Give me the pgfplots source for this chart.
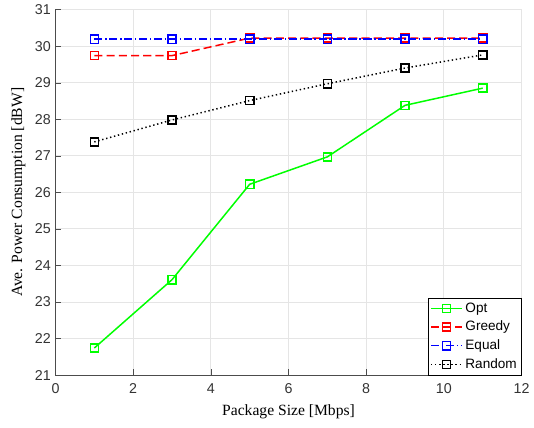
\documentclass[border=0pt]{standalone}
\usepackage{fontspec}
\setmainfont{Liberation Serif}
\newfontfamily\ticksans{Liberation Sans}
\usepackage{pgfplots}
\pgfplotsset{compat=1.18}

\begin{document}
\begin{tikzpicture}
\begin{axis}[
  scale only axis,
  width=343pt, height=269pt,
  xmin=0, xmax=12, ymin=21, ymax=31,
  xtick={0,2,...,12}, ytick={21,22,...,31},
  axis x line*=bottom, axis y line*=left,
  grid=major,
  major grid style={gray!20, line width=0.6pt},
  axis line style={gray!60!black},
  tick style={gray!60!black},
  tick align=inside,
  ticklabel style={font=\ticksans\fontsize{10.5}{12}\selectfont, text=black!80},
  xticklabel style={yshift=-3pt},
  /pgf/number format/assume math mode=true,
  xlabel={Package Size [Mbps]},
  ylabel={Ave. Power Consumption [dBW]},
  label style={font=\fontsize{11.5}{12}\selectfont},
  xlabel style={yshift=-1pt},
  legend style={at={(1,0)}, anchor=south east, font=\ticksans\fontsize{10}{11}\selectfont,
    draw=black, row sep=1pt, inner sep=1.5pt, outer sep=0pt},
  legend cell align=left,
  legend image code/.code={\draw[mark repeat=2,mark phase=2] plot coordinates {(0cm,0cm) (0.4cm,0cm) (0.8cm,0cm)};},
]
\addplot[green, line width=1.1pt, mark=square, mark size=3pt, mark options={solid}]
  coordinates {(1,21.74) (3,23.61) (5,26.22) (7,26.97) (9,28.38) (11,28.85)};
\addlegendentry{Opt}
\addplot[red, line width=1.1pt, dash pattern=on 6pt off 3pt, mark=square, mark size=3pt, mark options={solid}]
  coordinates {(1,29.74) (3,29.74) (5,30.22) (7,30.22) (9,30.22) (11,30.22)};
\addlegendentry{Greedy}
\addplot[blue, line width=1.1pt, dash pattern=on 6pt off 2pt on 1pt off 2pt, mark=square, mark size=3pt, mark options={solid}]
  coordinates {(1,30.19) (3,30.19) (5,30.19) (7,30.19) (9,30.19) (11,30.19)};
\addlegendentry{Equal}
\addplot[black, line width=1.1pt, dash pattern=on 1pt off 2pt, mark=square, mark size=3pt, mark options={solid}]
  coordinates {(1,27.38) (3,27.98) (5,28.51) (7,28.97) (9,29.40) (11,29.76)};
\addlegendentry{Random}
\end{axis}
\path ([xshift=-5pt,yshift=-3pt]current bounding box.south west);
\end{tikzpicture}
\end{document}
